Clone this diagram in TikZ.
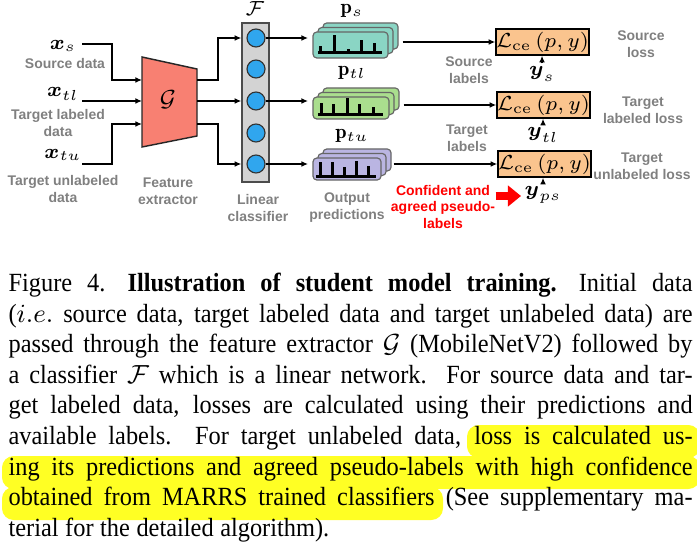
\documentclass[tikz,border=0pt]{standalone}
\usepackage{amsmath}
\usepackage{fontspec}
\setsansfont{Liberation Sans}
\newfontfamily\capfont[FakeStretch=0.93]{Liberation Serif}
\usetikzlibrary{arrows.meta,calc}
\definecolor{lblgray}{RGB}{128,128,128}
\definecolor{featsalmon}{RGB}{248,128,114}
\definecolor{lingray}{RGB}{211,211,211}
\definecolor{neuronblue}{RGB}{48,166,238}
\definecolor{predteal}{RGB}{138,213,196}
\definecolor{predgreen}{RGB}{170,222,142}
\definecolor{predpurple}{RGB}{186,181,226}
\definecolor{lossorange}{RGB}{250,196,142}
\definecolor{marker}{RGB}{255,255,36}
\newlength\px
\setlength\px{0.3434pt}
\newcommand\capline[1]{\hbox to\linewidth{#1}}

\tikzset{
	conn/.style={draw=black, line width=0.45pt, -{Latex[length=2.3pt,width=2pt]}},
	lbl/.style={text=lblgray, font=\sffamily\bfseries\fontsize{4.8}{5.8}\selectfont, align=center, inner sep=0},
	redlbl/.style={lbl, text=red},
	mlbl/.style={font=\fontsize{7}{8}\selectfont, inner sep=1pt},
	neuron/.style={circle, draw=black!80, fill=neuronblue, line width=0.4pt, minimum size=18\px, inner sep=0},
	linbox/.style={draw=black!70, fill=lingray, line width=0.45pt, minimum width=27\px, minimum height=159\px, inner sep=0},
	stk/.style={draw=black!60, line width=0.4pt, rounded corners=1.3pt, inner sep=0},
	bar/.style={draw=black, line width=3\px},
	lossbox/.style={draw=black, fill=lossorange, line width=0.5pt, minimum width=79\px, minimum height=26\px, inner sep=0, font=\fontsize{7}{8}\selectfont},
	redarr/.style={draw=red, line width=8\px, -{Triangle[length=4.5pt,width=7pt]}}
}

\begin{document}
\begin{tikzpicture}[x=\px, y=-\px]
	\useasboundingbox (0,0) rectangle (697,554);

	% inputs
	\node[mlbl] (xs) at (63,46) {$\boldsymbol{x}_s$};
	\node[lbl] (xsl) at (65,64) {Source data};
	\node[mlbl] (xtl) at (63,94) {$\boldsymbol{x}_{tl}$};
	\node[lbl] (xtll) at (58,123) {Target labeled\\data};
	\node[mlbl] (xtu) at (63,155) {$\boldsymbol{x}_{tu}$};
	\node[lbl] (xtul) at (63,189) {Target unlabeled\\data};
	\coordinate (xs-o) at (82,44);
	\coordinate (xtl-o) at (82,101);
	\coordinate (xtu-o) at (82,164);

	% feature extractor
	\draw[fill=featsalmon, draw=black!85, line width=0.5pt] (142,57) -- (197,69) -- (197,136) -- (142,147) -- cycle;
	\node[mlbl, font=\fontsize{8}{9}\selectfont] (G) at (168,100) {$\mathcal{G}$};
	\node[lbl] (fe) at (168,191) {Feature\\extractor};
	\coordinate (g-i1) at (142,80);
	\coordinate (g-i2) at (142,101);
	\coordinate (g-i3) at (142,124);
	\coordinate (g-o1) at (197,80);
	\coordinate (g-o2) at (197,101);
	\coordinate (g-o3) at (197,124);

	\draw[conn] (xs-o) -- ++(30,0) |- (g-i1);
	\draw[conn] (xtl-o) -- (g-i2);
	\draw[conn] (xtu-o) -- ++(30,0) |- (g-i3);

	% linear classifier
	\node[linbox] (lin) at (255.5,102.5) {};
	\foreach \i/\y in {1/38,2/69,3/101,4/133,5/164}
		\node[neuron] (c\i) at (256,\y) {};
	\node[mlbl] (F) at (255,9) {$\mathcal{F}$};
	\node[lbl] (lc) at (258,208) {Linear\\classifier};

	\draw[conn] (g-o1) -- ++(21,0) |- (c1 -| lin.west);
	\draw[conn] (g-o2) -- (c3 -| lin.west);
	\draw[conn] (g-o3) -- ++(21,0) |- (c5 -| lin.west);

	% output predictions
	\foreach \k in {2,1}
		\draw[stk, fill=predteal] (313+5*\k,32-4.5*\k) rectangle ++(75,26);
	\node[stk, fill=predteal, minimum width=75\px, minimum height=26\px] (ps) at (350.5,45) {};
	\foreach \bx/\bh in {320/7,334/18,348/4,361/13,374/10}
		\draw[bar] (\bx,53) -- ++(0,-\bh);
	\draw[bar] (318,53) -- (382,53);

	\foreach \k in {2,1}
		\draw[stk, fill=predgreen] (313+5*\k,97-4.5*\k) rectangle ++(76,22);
	\node[stk, fill=predgreen, minimum width=76\px, minimum height=22\px] (ptl) at (351,108) {};
	\foreach \bx/\bh in {321/12,333/11,347/17,359/11,373/8}
		\draw[bar] (\bx,115) -- ++(0,-\bh);
	\draw[bar] (318,115) -- (383,115);

	\foreach \k in {2,1}
		\draw[stk, fill=predpurple] (313+5*\k,158-4.5*\k) rectangle ++(68,22);
	\node[stk, fill=predpurple, minimum width=68\px, minimum height=22\px] (ptu) at (347,169) {};
	\foreach \bx/\bh in {320/14,332/14,344/9,356/15,368/10}
		\draw[bar] (\bx,176) -- ++(0,-\bh);
	\draw[bar] (316,176) -- (376,176);

	\node[mlbl] (ps-l) at (352,11) {$\mathbf{p}_{s}$};
	\node[mlbl] (ptl-l) at (352,73) {$\mathbf{p}_{tl}$};
	\node[mlbl] (ptu-l) at (352,136) {$\mathbf{p}_{tu}$};
	\node[lbl] (op) at (347,208) {Output\\predictions};

	\draw[conn, shorten >=1.5pt] (c1.east) -- (c1.east -| ps.west);
	\draw[conn, shorten >=1.5pt] (c3.east) -- (c3.east -| ptl.west);
	\draw[conn, shorten >=1.5pt] (c5.east) -- (c5.east -| ptu.west);

	% losses
	\node[lossbox] (l1) at (542.5,42) {$\mathcal{L}_{\text{ce}}\left(p,y\right)$};
	\node[lossbox] (l2) at (543.5,105) {$\mathcal{L}_{\text{ce}}\left(p,y\right)$};
	\node[lossbox, minimum width=83\px] (l3) at (544.5,164) {$\mathcal{L}_{\text{ce}}\left(p,y\right)$};

	\draw[conn] ($(l1.west -| ps.east)+(14,0)$) -- (l1.west);
	\draw[conn] ($(l2.west -| ptl.east)+(14,0)$) -- (l2.west);
	\draw[conn] ($(l3.west -| ptu.east)+(12,0)$) -- (l3.west);

	\node[mlbl] (ys) at (542,74) {$\boldsymbol{y}_s$};
	\node[mlbl] (ytl) at (543,135) {$\boldsymbol{y}_{tl}$};
	\node[mlbl] (yps) at (543,195) {$\boldsymbol{y}_{ps}$};
	\draw[conn] (ys.north) -- (ys.north |- l1.south);
	\draw[conn] (ytl.north) -- (ytl.north |- l2.south);
	\draw[conn] (yps.north) -- (yps.north |- l3.south);

	\node[lbl] (sl) at (469,70) {Source\\labels};
	\node[lbl] (tl) at (467,138) {Target\\labels};
	\node[lbl] (slo) at (641,44) {Source\\loss};
	\node[lbl] (tlo) at (643,110) {Target\\labeled loss};
	\node[lbl] (tuo) at (642,166) {Target\\unlabeled loss};

	\node[redlbl] (conf) at (443,207) {Confident and\\agreed pseudo-\\labels};
	\coordinate (conf-tip) at (521,196);
	\draw[redarr] (conf-tip -| conf.east) -- (conf-tip);

	% caption
	\fill[marker, rounded corners=4pt] (467,425) rectangle (700,458);
	\fill[marker, rounded corners=4pt] (2,456) rectangle (700,489);
	\fill[marker, rounded corners=4pt] (2,487) rectangle (443,520);

	\node[anchor=north west, inner sep=0, text width=684\px, align=left, font=\capfont\fontsize{9}{10.5}\selectfont] (cap) at (8,272.5) {%
		\spaceskip=0.25em plus 0.4em minus 0.1em\relax
		\capline{Figure 4.\hskip 0.6em plus 0.3em\textbf{Illustration of student model training.}\hskip 0.6em plus 0.3em Initial data}
		\capline{($i.e.$ source data, target labeled data and target unlabeled data) are}
		\capline{passed through the feature extractor $\mathcal{G}$ (MobileNetV2) followed by}
		\capline{a classifier $\mathcal{F}$ which is a linear network.\ \ For source data and tar-}
		\capline{get labeled data, losses are calculated using their predictions and}
		\capline{available labels.\ \ For target unlabeled data, loss is calculated us-}
		\capline{ing its predictions and agreed pseudo-labels with high confidence}
		\capline{obtained from MARRS trained classifiers (See supplementary ma-}
		\capline{terial for the detailed algorithm).\hfil}};

\end{tikzpicture}
\end{document}
